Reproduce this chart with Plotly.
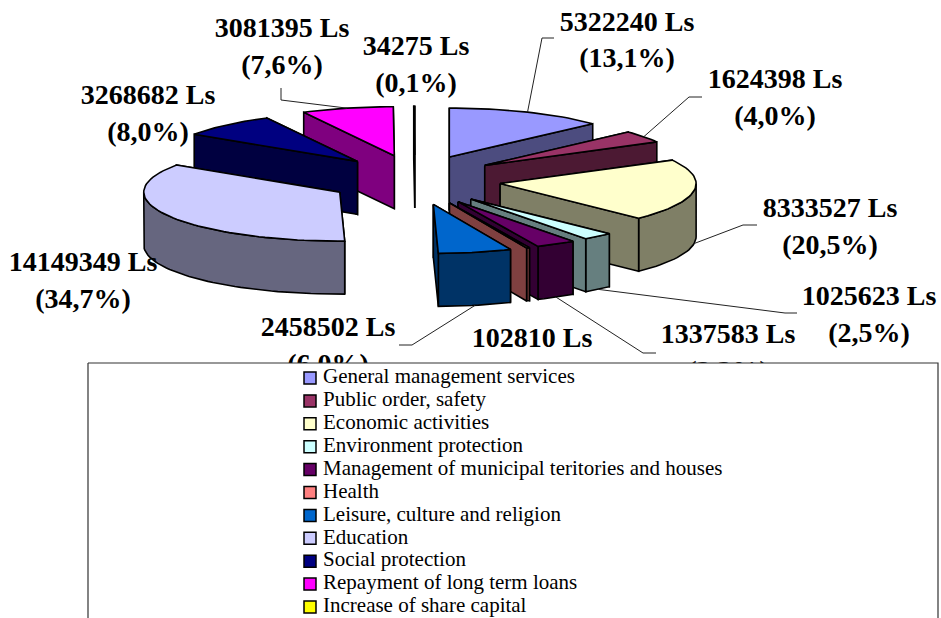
import math
import plotly.graph_objects as go

# ---- data ----
categories = ["General management services", "Public order, safety", "Economic activities",
              "Environment protection", "Management of municipal teritories and houses", "Health",
              "Leisure, culture and religion", "Education", "Social protection",
              "Repayment of long term loans", "Increase of share capital"]
values = [5322240, 1624398, 8333527, 1025623, 1337583, 102810,
          2458502, 14149349, 3268682, 3081395, 34275]
colors = ["#9999FF", "#993366", "#FFFFCC", "#CCFFFF", "#660066", "#FF8080",
          "#0066CC", "#CCCCFF", "#000080", "#FF00FF", "#FFFF00"]

# ---- layout of the simulated 3-D pie (pixel-like plot coordinates) ----
W, H = 941, 618
CX, CY = 415, 180
RX, RY = 196, 49
EX, EY = 86, 25      # explosion distance along each slice's mid angle
DEPTH = 53
SERIF = "Liberation Serif"

label_xy = [(627, 42), (775, 99.5), (830, 228.5), (869, 316.5), (728, 354.5), (532, 339.5),
            (328, 347.5), (83, 282.5), (148, 115.5), (282, 48.5), (416, 66.5)]
# the percentage line of the Health label lies wholly behind the legend box in the chart
percent_hidden = [5]
leaders = [[(542, 38), (554, 38)], [(689, 97), (702, 97)], [(743, 225), (757, 225)],
           [(785, 313), (797, 313)], [(643, 353), (656, 353)], None,
           [(412, 345), (399, 345)], None, None, [(281, 100), (281, 88)], None]
BOX = (88, 363, 938, 640)
LEG_X, LEG_TXT_X, LEG_Y0, LEG_DY = 310, 323, 378, 22.9

total = sum(values)
fig = go.Figure()


def dark(hex_c):
    r, g, b = (int(hex_c[i:i + 2], 16) // 2 for i in (1, 3, 5))
    return f"rgb({r},{g},{b})"


def poly(pts, fill, width=1.6):
    fig.add_trace(go.Scatter(x=[p[0] for p in pts] + [pts[0][0]], y=[p[1] for p in pts] + [pts[0][1]],
                             mode="lines", fill="toself", fillcolor=fill,
                             line=dict(color="black", width=width), hoverinfo="skip", showlegend=False))


# angle ranges derived from the values
angles = []
acc = 0
for v in values:
    a0 = acc / total * 360
    acc += v
    angles.append((a0, acc / total * 360))


def apex(i):
    m = math.radians(sum(angles[i]) / 2)
    return CX + EX * math.sin(m), CY - EY * math.cos(m)


def rim(i, deg, dz=0):
    ax, ay = apex(i)
    a = math.radians(deg)
    return ax + RX * math.sin(a), ay - RY * math.cos(a) + dz


def arc(i, a0, a1, dz=0):
    n = max(2, int(abs(a1 - a0) / 2) + 2)
    return [rim(i, a0 + (a1 - a0) * k / (n - 1), dz) for k in range(n)]


def cut(i, deg):
    ax, ay = apex(i)
    p = rim(i, deg)
    poly([(ax, ay), p, (p[0], p[1] + DEPTH), (ax, ay + DEPTH)], dark(colors[i]))


def slice3d(i):
    a0, a1 = angles[i]
    mid = (a0 + a1) / 2
    lo, hi = max(a0, 90), min(a1, 270)
    def outer():
        if hi > lo:
            poly(arc(i, lo, hi) + arc(i, hi, lo, DEPTH), dark(colors[i]))
    if mid < 180:
        cut(i, a0); outer(); cut(i, a1)
    else:
        cut(i, a1); cut(i, a0); outer()
    poly([apex(i)] + arc(i, a0, a1), colors[i])


# painter's order: right half from the back, then left half from the back
for i in [0, 1, 2, 3, 4, 5, 6, 10, 9, 8, 7]:
    slice3d(i)

# leader lines anchored on each slice's rim middle
for i, lead in enumerate(leaders):
    if not lead:
        continue
    m = sum(angles[i]) / 2
    start = rim(i, m, DEPTH if 90 < m < 270 else 0)
    pts = [start] + lead
    fig.add_trace(go.Scatter(x=[p[0] for p in pts], y=[p[1] for p in pts], mode="lines",
                             line=dict(color="#222222", width=1), hoverinfo="skip", showlegend=False))

# data labels
lab = []
for k, v in enumerate(values):
    s = f"{v} Ls"
    if k not in percent_hidden:
        s += f"<br>({v / total * 100:.1f}%)".replace(".", ",")
    lab.append(s)
fig.add_trace(go.Scatter(x=[p[0] for p in label_xy], y=[p[1] for p in label_xy], mode="text", text=lab,
                         textposition="middle center",
                         textfont=dict(family=SERIF, size=28, color="black"),
                         texttemplate="<b>%{text}</b>", hoverinfo="skip", showlegend=False))

# legend box covers what falls beneath it
x0, y0, x1, y1 = BOX
fig.add_trace(go.Scatter(x=[x0, x1, x1, x0, x0], y=[y0, y0, y1, y1, y0], mode="lines", fill="toself",
                         fillcolor="white", line=dict(color="#333333", width=1.2),
                         hoverinfo="skip", showlegend=False))
leg_y = [LEG_Y0 + k * LEG_DY for k in range(len(categories))]
fig.add_trace(go.Scatter(x=[LEG_X] * len(categories), y=leg_y, mode="markers",
                         marker=dict(symbol="square", size=12, color=colors, line=dict(color="black", width=1.5)),
                         hoverinfo="skip", showlegend=False))
fig.add_trace(go.Scatter(x=[LEG_TXT_X] * len(categories), y=leg_y, mode="text", text=categories,
                         textposition="middle right",
                         textfont=dict(family=SERIF, size=21, color="black"),
                         hoverinfo="skip", showlegend=False))

fig.update_layout(width=W, height=H, margin=dict(l=0, r=0, t=0, b=0), plot_bgcolor="white", paper_bgcolor="white",
                  showlegend=False,
                  xaxis=dict(range=[0, W], visible=False, fixedrange=True),
                  yaxis=dict(range=[H, 0], visible=False, fixedrange=True))
fig.write_html("out.html", config={"displayModeBar": False},
               post_script="document.body.style.margin='0';")
